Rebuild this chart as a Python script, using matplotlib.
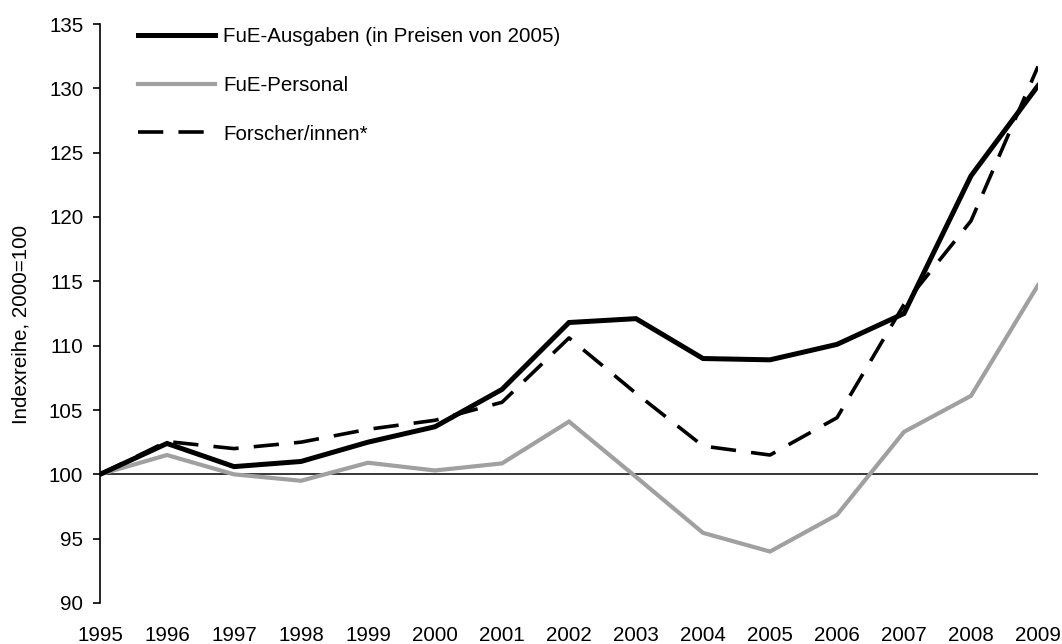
import matplotlib
matplotlib.use("Agg")
import matplotlib.pyplot as plt

plt.rcParams['font.family'] = ['Liberation Sans', 'DejaVu Sans']

years = list(range(1995, 2010))
ausgaben = [100.0, 102.4, 100.6, 101.0, 102.5, 103.7, 106.6, 111.8, 112.1,
            109.0, 108.9, 110.1, 112.5, 123.2, 130.2]
personal = [100.0, 101.5, 100.0, 99.5, 100.9, 100.3, 100.85, 104.1, 99.8,
            95.45, 94.0, 96.85, 103.3, 106.1, 114.7]
forscher = [100.0, 102.55, 102.0, 102.5, 103.5, 104.2, 105.6, 110.6, 106.3,
            102.2, 101.5, 104.4, 113.2, 119.7, 131.7]
labels = ["FuE-Ausgaben (in Preisen von 2005)", "FuE-Personal", "Forscher/innen*"]
yticks = list(range(90, 136, 5))

FS = 14.8
W, H = 1062, 644
fig = plt.figure(figsize=(W / 100, H / 100), dpi=100)
ax = fig.add_axes([100 / W, 1 - 603 / H, (1038 - 100) / W, (603 - 24) / H])

ax.axhline(100, color='black', lw=1.1, zorder=1)
ax.plot(years, personal, color='#a0a0a0', lw=3.0, label=labels[1], zorder=2,
        solid_joinstyle='miter')
ax.plot(years, forscher, color='black', lw=2.6, label=labels[2], zorder=3,
        dashes=(7.0, 4.2))
ax.plot(years, ausgaben, color='black', lw=3.6, label=labels[0], zorder=4,
        solid_joinstyle='miter')

ax.set_xlim(1995, 2009)
ax.set_ylim(90, 135)
ax.set_yticks(yticks)
ax.set_xticks(years)
ax.set_xticklabels([str(y) for y in years])
for s in ['top', 'right', 'bottom']:
    ax.spines[s].set_visible(False)
ax.spines['left'].set_linewidth(1.2)
ax.tick_params(axis='y', direction='out', length=5, width=1.2, pad=7, labelsize=FS)
ax.tick_params(axis='x', length=0, pad=16.5, labelsize=FS)

handles, labs = ax.get_legend_handles_labels()
order = [2, 0, 1]
leg = ax.legend([handles[i] for i in order], [labs[i] for i in order],
                loc='upper left', bbox_to_anchor=((138 - 100) / 938, (603 - 27) / 579),
                frameon=False, fontsize=FS, handlelength=3.74, handletextpad=0.39,
                labelspacing=1.45, borderaxespad=0, borderpad=0)

fig.text(21 / W, 1 - 324 / H, "Indexreihe, 2000=100", rotation=90,
         ha='center', va='center', fontsize=FS)

fig.savefig("out.png", dpi=100)
